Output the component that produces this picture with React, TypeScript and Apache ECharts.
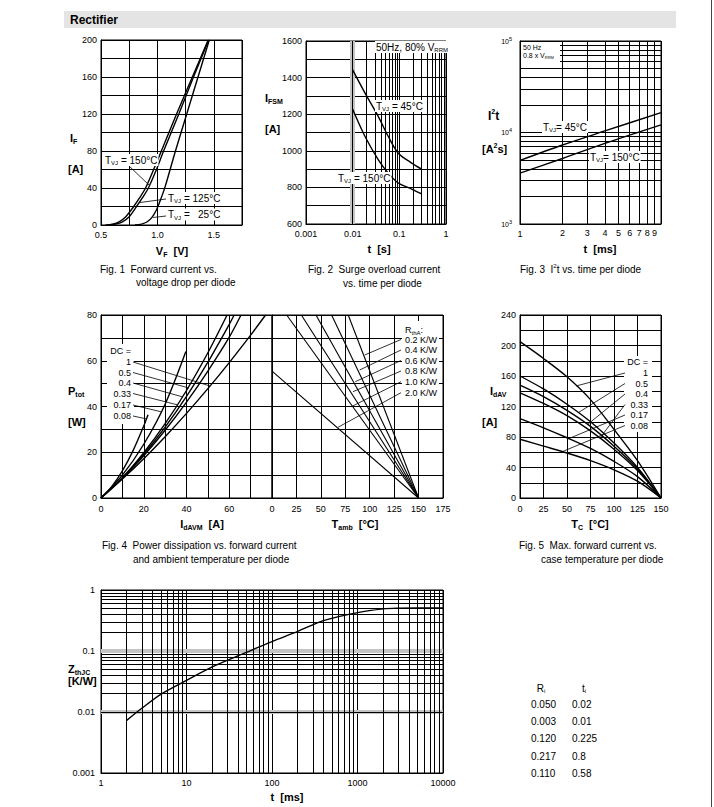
import React, { useEffect, useRef } from 'react';
import * as echarts from 'echarts';

const FF = '"Liberation Sans", Arial, Helvetica, sans-serif';

// ---------- Fig. 1 : forward current I_F [A] vs V_F [V] ----------
const fig1T150: [number, number][] = [[0.54, 0], [0.6, 1], [0.66, 3.5], [0.72, 9], [0.79, 20], [0.84, 29], [0.895, 40], [0.96, 58], [1.035, 80], [1.17, 120], [1.31, 160], [1.45, 200]];
const fig1T125: [number, number][] = [[0.57, 0], [0.63, 1], [0.69, 3.5], [0.75, 9], [0.815, 20], [0.865, 29], [0.92, 40], [0.985, 58], [1.055, 80], [1.19, 120], [1.32, 160], [1.455, 200]];
const fig1T25: [number, number][] = [[0.8, 0], [0.86, 1], [0.91, 3.5], [0.95, 8], [0.99, 16], [1.03, 28], [1.07, 42], [1.16, 80], [1.26, 120], [1.36, 160], [1.46, 200]];
const fig1XLabels = ['0.5', '1.0', '1.5'];

// ---------- Fig. 2 : surge current I_FSM [A] vs t [s] ----------
const fig2T45: [number, number][] = [[0.01, 1442], [0.0184, 1315], [0.0355, 1187], [0.058, 1078], [0.095, 987], [0.184, 933], [0.3, 900]];
const fig2T150: [number, number][] = [[0.01, 1227], [0.0184, 1078], [0.0355, 951], [0.058, 878], [0.095, 824], [0.184, 791], [0.3, 765]];
const fig2XLabels = ['0.001', '0.01', '0.1', '1'];

// ---------- Fig. 3 : I2t [A2s] vs t [ms] ----------
const fig3T45: [number, number][] = [[1, 4950], [2, 7300], [4, 10400], [10, 16500]];
const fig3T150: [number, number][] = [[1, 3600], [2, 5200], [4, 7600], [10, 12100]];
const fig3XLabels = ['1', '2', '3', '4', '5', '6', '7', '8', '9'];

// ---------- Fig. 4 : P_tot [W] vs I_dAVM [A] (left) and T_amb [°C] (right) ----------
const fig4DC: [number, number][] = [[0, 0], [10, 8.3], [20, 17.2], [30, 26.8], [40, 37], [50, 47.8], [60, 59.2], [70, 71.2], [77, 80]];
const fig4D05: [number, number][] = [[0, 0], [10, 8.6], [20, 18.5], [30, 29.6], [40, 41.9], [50, 55.5], [60, 70.3], [65.5, 80]];
const fig4D04: [number, number][] = [[0, 0], [10, 8.8], [20, 19.1], [30, 31], [40, 44.4], [50, 59.4], [60, 75.9], [62.3, 80]];
const fig4D033: [number, number][] = [[0, 0], [10, 8.9], [20, 19.8], [30, 32.5], [40, 47], [50, 63.5], [59, 80]];
const fig4D017: [number, number][] = [[0, 0], [10, 10], [20, 23.5], [30, 41], [39.7, 64]];
const fig4D008: [number, number][] = [[0, 0], [5, 5], [10, 11.9], [15, 20.7], [20, 31.5], [22, 36.4]];
const fig4DutyLabels = ['1', '0.5', '0.4', '0.33', '0.17', '0.08'];
const fig4Rth02: [number, number][] = [[78, 80], [150, 0]];
const fig4Rth04: [number, number][] = [[61, 80], [150, 0]];
const fig4Rth06: [number, number][] = [[45, 80], [150, 0]];
const fig4Rth08: [number, number][] = [[30, 80], [150, 0]];
const fig4Rth10: [number, number][] = [[15, 80], [150, 0]];
const fig4Rth20: [number, number][] = [[0, 55.5], [150, 0]];
const fig4RthLabels = ['0.2 K/W', '0.4 K/W', '0.6 K/W', '0.8 K/W', '1.0 K/W', '2.0 K/W'];

// ---------- Fig. 5 : I_dAV [A] vs T_C [°C] ----------
const fig5DC: [number, number][] = [[0, 205], [25, 183], [50, 159], [75, 129], [100, 90], [125, 49], [150, 0]];
const fig5D05: [number, number][] = [[0, 160], [25, 143], [50, 123], [75, 100], [100, 72], [125, 40], [150, 0]];
const fig5D04: [number, number][] = [[0, 148], [25, 133], [50, 115], [75, 94], [100, 68], [125, 38], [150, 0]];
const fig5D033: [number, number][] = [[0, 138], [25, 124], [50, 108], [75, 88], [100, 64], [125, 36], [150, 0]];
const fig5D017: [number, number][] = [[0, 104], [25, 92], [50, 79], [75, 65], [100, 48], [125, 28], [150, 0]];
const fig5D008: [number, number][] = [[0, 77], [25, 68], [50, 59], [75, 49], [100, 37], [125, 22], [150, 0]];
const fig5LeaderT = [60, 62, 72, 85, 52, 45];

// ---------- Fig. 6 : Z_thJC [K/W] vs t [ms] ----------
const fig6Zth: [number, number][] = [[2, 0.0073], [3, 0.0115], [5, 0.0195], [10, 0.033], [20, 0.055], [50, 0.095], [100, 0.143], [200, 0.21], [400, 0.315], [1000, 0.425], [2000, 0.49], [3000, 0.505], [5000, 0.51], [10000, 0.51]];
const fig6XLabels = ['1', '10', '100', '1000', '10000'];
const fig6YLabels = ['0.001', '0.01', '0.1', '1'];

// ---------- thermal model table ----------
const tableRi = ['0.050', '0.003', '0.120', '0.217', '0.110'];
const tableTi = ['0.02', '0.01', '0.225', '0.8', '0.58'];

const GRIDS = [
  { left: 101, top: 40, width: 141, height: 185 },
  { left: 306, top: 41, width: 140, height: 183 },
  { left: 520, top: 41, width: 141, height: 183 },
  { left: 101, top: 315, width: 171, height: 183 },
  { left: 272, top: 315, width: 171, height: 183 },
  { left: 520, top: 315, width: 141, height: 183 },
  { left: 101, top: 590, width: 342, height: 183 },
];

const minors = (from: number, to: number) => {
  const out: number[] = [];
  for (let e = from; e < to; e++) for (let k = 2; k <= 9; k++) out.push(+(k * Math.pow(10, e)).toPrecision(6));
  return out;
};
const lg = (v: number) => Math.round(Math.log10(v));

function lbl(fmt: any, margin: number, size = 9, extra: any = {}) {
  return { show: true, formatter: fmt, margin, color: '#000', fontSize: size, fontFamily: FF, showMinLabel: true, showMaxLabel: true, hideOverlap: false, ...extra };
}
function axis(type: 'value' | 'log', gridIndex: number, min: number, max: number, interval: number, label: any) {
  const a: any = {
    type, gridIndex, min, max,
    axisLine: { show: true, onZero: false, lineStyle: { color: '#000', width: 1 } },
    axisTick: { show: false },
    splitLine: { show: true, lineStyle: { color: '#000', width: 1 } },
    minorTick: { show: false }, minorSplitLine: { show: false },
    axisLabel: label,
  };
  if (type === 'log') a.logBase = 10; else a.interval = interval;
  return a;
}
function curve(gi: number, data: [number, number][], smooth = true, width = 1.4) {
  return {
    type: 'line', xAxisIndex: gi, yAxisIndex: gi, data, symbol: 'none', showSymbol: false,
    smooth: smooth ? 0.3 : false, lineStyle: { color: '#000', width }, silent: true, z: 5,
  };
}
function marks(gi: number, anchor: [number, number], xs: number[], ys: number[], color = '#000', width = 1, z = 2) {
  return {
    type: 'line', xAxisIndex: gi, yAxisIndex: gi, data: [anchor], symbol: 'none', showSymbol: false,
    lineStyle: { opacity: 0 }, silent: true, z,
    markLine: {
      silent: true, symbol: ['none', 'none'], animation: false, label: { show: false },
      lineStyle: { color, width, type: 'solid' }, emphasis: { disabled: true },
      data: [...xs.map((v) => ({ xAxis: v })), ...ys.map((v) => ({ yAxis: v }))],
    },
  };
}
function interp(d: [number, number][], x: number) {
  for (let i = 0; i < d.length - 1; i++) {
    if (x >= d[i][0] && x <= d[i + 1][0]) {
      const t = (x - d[i][0]) / (d[i + 1][0] - d[i][0]);
      return d[i][1] + t * (d[i + 1][1] - d[i][1]);
    }
  }
  return d[d.length - 1][1];
}

function buildOption() {
  const supRich = { p: { fontSize: 5.5, padding: [0, 0, 5, 0], fontFamily: FF, color: '#000' } };
  const xAxis = [
    axis('value', 0, 0.5, 1.75, 0.25, lbl((v: number) => (Math.abs(v * 2 - Math.round(v * 2)) < 1e-6 && v < 1.6 ? fig1XLabels[Math.round(v * 2) - 1] : ''), 5)),
    axis('log', 1, 0.001, 1, 0, lbl((v: number) => fig2XLabels[lg(v) + 3], 5)),
    axis('log', 2, 1, 10, 0, lbl((v: number) => (v < 1.5 ? fig3XLabels[0] : ''), 5)),
    axis('value', 3, 0, 80, 10, lbl((v: number) => (v % 20 === 0 && v < 80 ? String(v) : ''), 6)),
    axis('value', 4, 0, 175, 25, lbl((v: number) => String(v), 6)),
    axis('value', 5, 0, 150, 25, lbl((v: number) => String(v), 6)),
    axis('log', 6, 1, 10000, 0, lbl((v: number) => fig6XLabels[lg(v)], 5)),
  ];
  const yAxis = [
    axis('value', 0, 0, 200, 20, lbl((v: number) => (v % 40 === 0 ? String(v) : ''), 4)),
    axis('value', 1, 600, 1600, 100, lbl((v: number) => (v % 200 === 0 ? String(v) : ''), 4)),
    axis('log', 2, 1000, 100000, 0, lbl((v: number) => '10{p|' + lg(v) + '}', 8, 7, { rich: supRich })),
    axis('value', 3, 0, 80, 10, lbl((v: number) => (v % 20 === 0 ? String(v) : ''), 4)),
    axis('value', 4, 0, 80, 10, { show: false }),
    axis('value', 5, 0, 240, 20, lbl((v: number) => (v % 40 === 0 ? String(v) : ''), 4)),
    axis('log', 6, 0.001, 1, 0, lbl((v: number) => fig6YLabels[lg(v) + 3], 6)),
  ];
  const series: any[] = [
    // minor log grid lines
    marks(1, [0.001, 600], [0.0095], [], '#c4c4c4', 5, 1),
    marks(1, [0.001, 600], minors(-3, 0), []),
    marks(2, [1, 1000], minors(0, 1), minors(3, 5)),
    marks(6, [1, 0.001], [], [0.1, 0.01], '#c4c4c4', 4, 1),
    marks(6, [1, 0.001], minors(0, 4), minors(-3, 0)),
    // fig 1
    curve(0, fig1T150), curve(0, fig1T125), curve(0, fig1T25),
    // fig 2
    curve(1, fig2T45), curve(1, fig2T150),
    // fig 3
    curve(2, fig3T45), curve(2, fig3T150),
    // fig 4 left
    curve(3, fig4DC), curve(3, fig4D05), curve(3, fig4D04), curve(3, fig4D033), curve(3, fig4D017), curve(3, fig4D008),
    // fig 4 right
    curve(4, fig4Rth02, false, 1.1), curve(4, fig4Rth04, false, 1.1), curve(4, fig4Rth06, false, 1.1),
    curve(4, fig4Rth08, false, 1.1), curve(4, fig4Rth10, false, 1.1), curve(4, fig4Rth20, false, 1.1),
    // fig 5
    curve(5, fig5DC), curve(5, fig5D05), curve(5, fig5D04), curve(5, fig5D033), curve(5, fig5D017), curve(5, fig5D008),
    // fig 6
    curve(6, fig6Zth),
  ];
  return {
    animation: false,
    backgroundColor: '#fff',
    grid: GRIDS.map((g) => ({ ...g, show: true, borderColor: '#000', borderWidth: 1, containLabel: false, outerBoundsMode: 'none' })),
    xAxis, yAxis, series,
  };
}

function buildGraphic(chart: any) {
  const els: any[] = [];
  const rich = (size: number, bold: boolean) => ({
    s: { fontSize: Math.round(size * 0.62), fontFamily: FF, fontWeight: bold ? 'bold' : 'normal', fill: '#000', padding: [size * 0.62, 0, 0, 0] },
    p: { fontSize: Math.round(size * 0.62), fontFamily: FF, fontWeight: bold ? 'bold' : 'normal', fill: '#000', padding: [0, 0, size * 0.7, 0] },
  });
  const txt = (x: number, y: number, text: string, size = 10, align = 'left', o: { bold?: boolean; bg?: boolean } = {}) => {
    els.push({
      type: 'text', x, y, z: 20, silent: true,
      style: {
        text, fill: '#000', fontSize: size, fontFamily: FF, fontWeight: o.bold ? 'bold' : 'normal',
        align, verticalAlign: 'middle', rich: rich(size, !!o.bold),
        backgroundColor: o.bg ? '#fff' : undefined, padding: o.bg ? [0, 1, 0, 1] : 0,
      },
    });
  };
  const seg = (x1: number, y1: number, x2: number, y2: number, w = 0.8) =>
    els.push({ type: 'line', z: 15, silent: true, shape: { x1, y1, x2, y2 }, style: { stroke: '#000', lineWidth: w } });
  const box = (x: number, y: number, w: number, h: number) =>
    els.push({ type: 'rect', z: 12, silent: true, shape: { x, y, width: w, height: h }, style: { fill: '#fff' } });

  // header
  els.push({ type: 'rect', z: 1, silent: true, shape: { x: 64, y: 11, width: 612, height: 17 }, style: { fill: '#e4e4e4' } });
  txt(70, 19.5, 'Rectifier', 12, 'left', { bold: true });
  els.push({ type: 'line', z: 1, silent: true, shape: { x1: 711.5, y1: 0, x2: 711.5, y2: 807 }, style: { stroke: '#444', lineWidth: 1 } });

  // Fig 1
  txt(70, 138, 'I{s|F}', 11, 'left', { bold: true });
  txt(68, 169, '[A]', 11, 'left', { bold: true });
  txt(172, 251, 'V{s|F}  [V]', 11, 'center', { bold: true });
  txt(104, 160, 'T{s|VJ} = 150°C', 10, 'left', { bg: true });
  seg(128, 165, 149, 185);
  txt(167, 198, 'T{s|VJ} = 125°C', 10, 'left', { bg: true });
  seg(166, 199, 140, 202.5);
  txt(167, 214.5, 'T{s|VJ} =   25°C', 10, 'left', { bg: true });
  seg(166, 216, 153, 217.5);
  txt(100, 269, 'Fig. 1  Forward current vs.', 10);
  txt(136, 282, 'voltage drop per diode', 10);

  // Fig 2
  txt(265, 98, 'I{s|FSM}', 11, 'left', { bold: true });
  txt(265, 129, '[A]', 11, 'left', { bold: true });
  txt(379, 249, 't  [s]', 11, 'center', { bold: true });
  txt(375, 47, '50Hz, 80% V{s|RRM}', 10, 'left', { bg: true });
  txt(375, 106, 'T{s|VJ} = 45°C', 10, 'left', { bg: true });
  txt(337, 178, 'T{s|VJ} = 150°C', 10, 'left', { bg: true });
  txt(308, 269, 'Fig. 2  Surge overload current', 10);
  txt(343, 283, 'vs. time per diode', 10);

  // Fig 3
  txt(488, 116, 'I{p|2}t', 12, 'left', { bold: true });
  txt(482, 149, '[A{p|2}s]', 11, 'left', { bold: true });
  txt(600, 249, 't  [ms]', 11, 'center', { bold: true });
  box(521, 42, 39, 20);
  txt(523, 47, '50 Hz', 7);
  txt(523, 55, '0.8 x V{s|RRM}', 7);
  txt(542, 127, 'T{s|VJ}= 45°C', 10, 'left', { bg: true });
  txt(589, 157, 'T{s|VJ}= 150°C', 10, 'left', { bg: true });
  txt(520, 269, 'Fig. 3  I{p|2}t vs. time per diode', 10);
  for (let k = 2; k <= 9; k++) {
    const p = chart.convertToPixel({ gridIndex: 2 }, [k, 1000]);
    txt(p[0], p[1] + 9, fig3XLabels[k - 1], 9, 'center');
  }

  // Fig 4
  txt(68, 391, 'P{s|tot}', 11, 'left', { bold: true });
  txt(68, 422, '[W]', 11, 'left', { bold: true });
  txt(202, 524, 'I{s|dAVM}  [A]', 11, 'center', { bold: true });
  txt(355, 524, 'T{s|amb}  [°C]', 11, 'center', { bold: true });
  box(107, 344, 27, 80);
  txt(131, 351, 'DC =', 9, 'right');
  const f4y = [362, 372.5, 383, 393.5, 405, 416];
  const f4lead = [[210, 386], [189, 388], [183, 397], [178, 405], [162, 412], [147, 419]];
  fig4DutyLabels.forEach((l, i) => {
    txt(131, f4y[i], l, 9, 'right');
    seg(133, f4y[i], f4lead[i][0], f4lead[i][1]);
  });
  box(402, 321, 37, 78);
  txt(405, 330, 'R{s|thA}:', 9, 'left');
  const rthY = [339.5, 350, 360.5, 371, 381.7, 392.7];
  const rthLead = [[364.7, 355], [359.7, 370], [355.3, 381.7], [353, 391.7], [351.3, 406.7], [338, 427.3]];
  fig4RthLabels.forEach((l, i) => {
    txt(405, rthY[i], l, 9, 'left');
    seg(401, rthY[i], rthLead[i][0], rthLead[i][1]);
  });
  txt(102, 545, 'Fig. 4  Power dissipation vs. forward current', 10);
  txt(133, 559, 'and ambient temperature per diode', 10);

  // Fig 5
  txt(490, 391, 'I{s|dAV}', 11, 'left', { bold: true });
  txt(482, 422, '[A]', 11, 'left', { bold: true });
  txt(590, 524, 'T{s|C}  [°C]', 11, 'center', { bold: true });
  box(624, 356, 28, 76);
  txt(648, 362, 'DC =', 9, 'right');
  const f5y = [373, 383.5, 394, 404.5, 415, 425.5];
  const f5curves = [fig5DC, fig5D05, fig5D04, fig5D033, fig5D017, fig5D008];
  fig4DutyLabels.forEach((l, i) => {
    txt(648, f5y[i], l, 9, 'right');
    const T = fig5LeaderT[i];
    const p = chart.convertToPixel({ gridIndex: 5 }, [T, interp(f5curves[i], T)]);
    seg(625, f5y[i], p[0], p[1]);
  });
  txt(519, 545, 'Fig. 5  Max. forward current vs.', 10);
  txt(541, 559, 'case temperature per diode', 10);

  // Fig 6
  txt(68, 669, 'Z{s|thJC}', 11, 'left', { bold: true });
  txt(68, 681, '[K/W]', 11, 'left', { bold: true });
  txt(287, 797, 't  [ms]', 11, 'center', { bold: true });

  // table
  txt(541, 688, 'R{s|i}', 10, 'center');
  txt(584, 688, 't{s|i}', 10, 'center');
  const rowY = [704, 721, 738.5, 756, 773];
  tableRi.forEach((v, i) => {
    txt(531, rowY[i], v, 10, 'left');
    txt(572, rowY[i], tableTi[i], 10, 'left');
  });
  return els;
}

export default function App() {
  const ref = useRef<HTMLDivElement>(null);
  useEffect(() => {
    if (!ref.current) return;
    const chart = echarts.init(ref.current, undefined, { renderer: 'svg', width: 714, height: 807 });
    chart.setOption(buildOption() as any);
    chart.setOption({ graphic: buildGraphic(chart) } as any);
    return () => chart.dispose();
  }, []);
  return <div ref={ref} style={{ position: 'fixed', left: 0, top: 0, width: 714, height: 807, background: '#fff' }} />;
}
